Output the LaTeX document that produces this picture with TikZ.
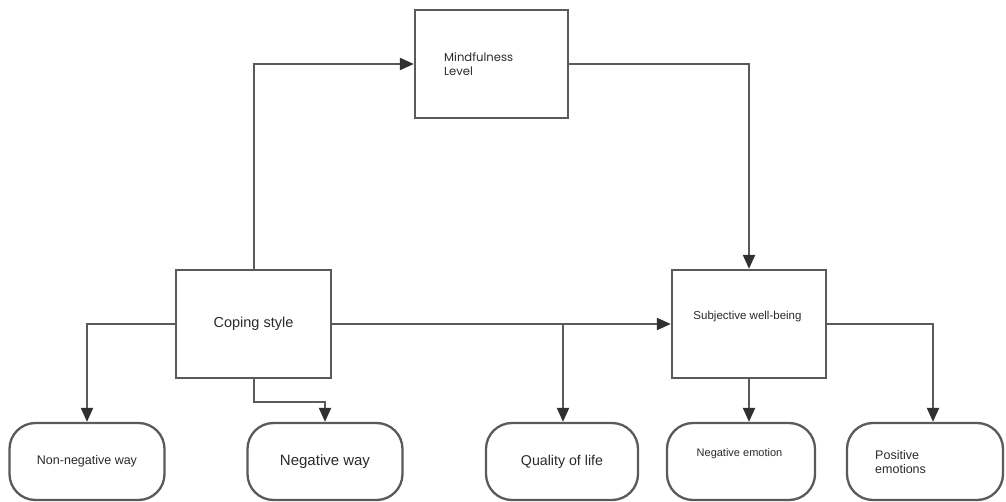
\documentclass[tikz,border=0pt]{standalone}
\usepackage{fontspec}
\setmainfont{Liberation Sans}
\newfontfamily\popfont{Poppins}
\usetikzlibrary{arrows.meta,positioning}
\definecolor{linec}{HTML}{5A5A5A}
\definecolor{tipc}{HTML}{303030}
\definecolor{txtc}{HTML}{2A2A2A}
\tikzset{
  sqbox/.style={draw=linec, line width=2.3pt, fill=white, inner sep=0pt, text=txtc},
  rbox/.style={draw=linec, line width=2.3pt, fill=white, inner sep=0pt, rounded corners=26pt,
     minimum width=155pt, minimum height=77pt, text=txtc},
  arr/.style={draw=linec, line width=2pt, -{Triangle[length=14pt,width=12pt,color=tipc]}},
}
\begin{document}
\begin{tikzpicture}[x=1pt,y=-1pt]
\useasboundingbox (0,0) rectangle (1006,502);
\fill[white] (0,0) rectangle (1006,502);
% main boxes
\node[sqbox, minimum width=153pt, minimum height=108pt] (mind) at (491.5,64) {};
\node[anchor=north west, text=txtc, align=left, inner sep=0pt, font=\popfont\fontsize{11.6}{14}\selectfont] (mindt) at (444,52.5) {Mindfulness\\Level};
\node[sqbox, minimum width=155pt, minimum height=108pt, font=\fontsize{14.5}{17}\selectfont] (coping) at (253.5,324) {Coping style};
\node[sqbox, minimum width=154pt, minimum height=108pt] (subj) at (749,324) {};
\node[text=txtc, inner sep=0pt, font=\fontsize{11.5}{14}\selectfont] (subjt) at (747.5,317) {Subjective well-being};
% bottom boxes
\node[rbox, font=\fontsize{12.5}{15}\selectfont] (nonneg) at (87,461.5) {Non-negative way};
\node[rbox, font=\fontsize{15}{18}\selectfont] (negway) at (325,461.5) {Negative way};
\node[rbox, minimum width=152pt, font=\fontsize{14.2}{17}\selectfont] (qol) at (562,461.5) {Quality of life};
\node[rbox, minimum width=148pt] (negemo) at (741,461.5) {};
\node[text=txtc, inner sep=0pt, font=\fontsize{11}{13}\selectfont] (negemot) at (739.5,454) {Negative emotion};
\node[rbox, minimum width=156pt] (pos) at (925,461.5) {};
\node[anchor=west, text=txtc, align=left, inner sep=0pt, font=\fontsize{12.5}{14.5}\selectfont] (post) at (875,462) {Positive\\emotions};
% connectors
\coordinate (qj) at (563,324);
\coordinate (pj) at (933,324);
\draw[arr] (coping.north) |- (mind.west);
\draw[arr] (mind.east) -| (subj.north);
\draw[arr] (coping.east) -- (subj.west);
\draw[arr] (qj) -- (qj |- qol.north);
\draw[arr] (coping.west) -| (nonneg.north);
\draw[arr] (coping.south) -- ++(0,23) -| (negway.north);
\draw[arr] (subj.south) -- (subj.south |- negemo.north);
\draw[arr] (subj.east) -- (pj) -- (pj |- pos.north);
\end{tikzpicture}
\end{document}
